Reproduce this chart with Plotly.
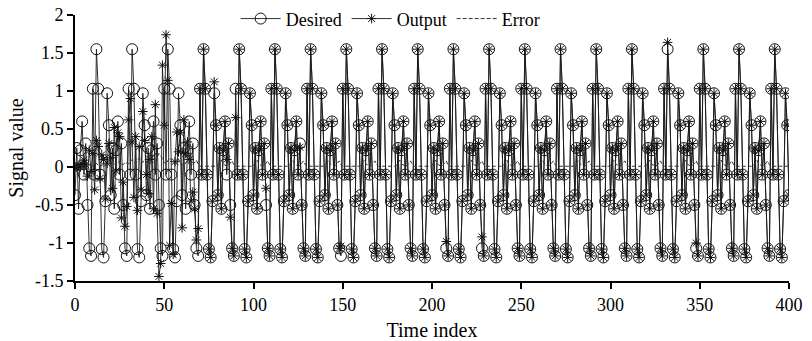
import numpy as np
import plotly.graph_objects as go

# ---- data -------------------------------------------------------------
n_steps = 401
time_index = list(range(n_steps))

# one cycle (20 samples) of the reference signal
desired_cycle = [-0.37, 0.25, -0.55, 0.22, 0.60, -0.10, 0.31, -0.50, -1.07, -1.17,
                 1.03, -0.10, 1.55, 1.03, -0.10, -1.08, -1.19, -0.45, 0.97, 0.55]

# network output during the learning phase (samples 0..69)
output_head = [
    0.00, 0.00, 0.01, 0.00, 0.04, 0.09, 0.03, -0.12, 0.22, -0.06,
    0.18, -0.30, 0.35, 0.27, -0.15, 0.16, 0.10, -0.42, 0.05, 0.31,
    0.12, -0.28, 0.52, -0.05, 0.45, 0.40, -0.67, -0.20, -0.78, -0.52,
    0.62, 0.90, 0.33, -0.40, 0.40, -0.57, 0.27, -0.30, 0.73, 0.35,
    -0.10, -0.35, 0.10, 0.40, -0.55, 0.82, -0.61, -1.44, -1.27, 1.34,
    0.55, 1.74, 1.14, -1.03, -0.48, -1.15, 0.07, 0.46, 0.20, 0.45,
    -0.80, 0.62, 0.18, 0.33, 0.10, -0.45, -0.33, -0.55, -0.96, -0.81,
]
# residual deviations of the output after the learning phase
offset_index = [78, 85, 87, 90, 107, 126, 149, 208, 228, 332, 348]
offset_value = [0.15, 0.20, -0.16, -0.38, 0.22, -0.05, 0.13, 0.09, 0.15, 0.09, 0.07]

# tracking error trace: learning phase, then steady cycle
error_head = [
    0.00, 0.00, 0.01, 0.02, 0.01, 0.03, 0.02, 0.01, 0.04, 0.02,
    0.01, 0.03, 0.05, 0.02, 0.01, 0.02, 0.04, 0.03, 0.01, 0.02,
    0.03, 0.06, 0.04, 0.02, 0.05, 0.08, 0.04, 0.03, 0.06, 0.05,
    0.04, 0.07, 0.10, 0.06, 0.05, 0.09, 0.12, 0.08, 0.06, 0.10,
    0.07, 0.05, 0.09, 0.14, 0.10, 0.08, 0.12, 0.18, 0.15, 0.10,
    0.06, 0.04, 0.08, 0.12, 0.09, 0.05, 0.03, 0.07, 0.10, 0.06,
    0.03, 0.02, 0.05, 0.08, 0.04, 0.02, 0.03, 0.06, 0.09, 0.04,
]
error_cycle = [0.02, 0.06, 0.09, 0.04, 0.02, 0.01, 0.02, 0.05, 0.08, 0.03,
               0.01, 0.01, 0.01, 0.01, 0.01, 0.01, 0.01, 0.01, 0.01, 0.01]

y_ticks = [2, 1.5, 1, 0.5, 0, -0.5, -1, -1.5]
y_tick_text = ["2", "1.5", "1", "0.5", "0", "-0.5", "-1", "-1.5"]
x_ticks = [0, 50, 100, 150, 200, 250, 300, 350, 400]

# ---- series assembly --------------------------------------------------
desired = [desired_cycle[t % len(desired_cycle)] for t in time_index]
output = list(output_head) + desired[len(output_head):]
for i, v in zip(offset_index, offset_value):
    output[i] = desired[i] + v
error = list(error_head) + [error_cycle[t % len(error_cycle)]
                            for t in time_index[len(error_head):]]

FONT = "Liberation Serif, Times New Roman, serif"

fig = go.Figure()
fig.add_trace(go.Scatter(
    x=time_index, y=desired, name="Desired", mode="lines+markers",
    line=dict(color="#1a1a1a", width=0.9),
    marker=dict(symbol="circle-open", size=11, color="#111",
                line=dict(width=1, color="#111")),
))
fig.add_trace(go.Scatter(
    x=time_index, y=output, name="Output", mode="lines+markers",
    line=dict(color="#1a1a1a", width=0.9),
    marker=dict(symbol="asterisk-open", size=8, color="#111",
                line=dict(width=1, color="#111")),
))
fig.add_trace(go.Scatter(
    x=time_index, y=error, name="Error", mode="lines",
    line=dict(color="#333", width=1, dash="4px,2px"),
))

fig.update_layout(
    width=812, height=341,
    margin=dict(l=75, r=23, t=15, b=60, autoexpand=False),
    paper_bgcolor="white", plot_bgcolor="white",
    font=dict(family=FONT, size=18, color="black"),
    showlegend=True,
    legend=dict(orientation="h", x=0.225, xanchor="left", y=1.055, yanchor="top",
                bgcolor="rgba(0,0,0,0)", font=dict(family=FONT, size=18),
                itemwidth=40, tracegroupgap=0),
    xaxis=dict(range=[0, 400], tickvals=x_ticks, showline=True, linecolor="black",
               linewidth=2, ticks="outside", ticklen=6, tickwidth=2, tickcolor="black",
               showgrid=False, zeroline=False, tickfont=dict(size=18), automargin=False,
               title=dict(text="Time index", standoff=12, font=dict(size=20))),
    yaxis=dict(range=[-1.5, 2], tickvals=y_ticks, ticktext=y_tick_text, showline=True,
               linecolor="black", linewidth=2, ticks="outside", ticklen=6, tickwidth=2,
               tickcolor="black", showgrid=False, zeroline=False, tickfont=dict(size=18),
               automargin=False,
               title=dict(text="Signal value", standoff=6, font=dict(size=20))),
)

fig.write_html("out.html")
